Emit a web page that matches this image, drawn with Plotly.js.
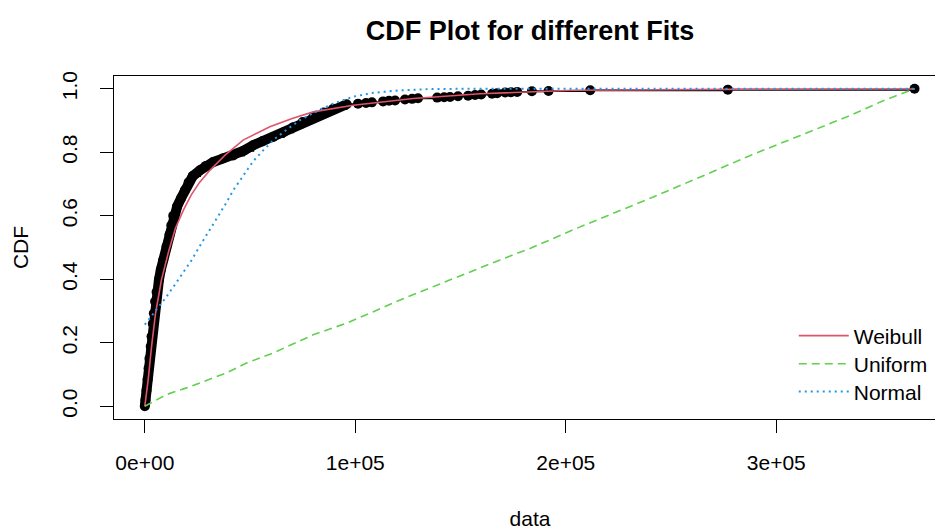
<!DOCTYPE html>
<html>
<head>
<meta charset="utf-8">
<script src="https://cdn.plot.ly/plotly-3.0.1.min.js"></script>
<style>
  html, body { margin: 0; padding: 0; background: #ffffff; overflow: hidden; }
  #chart { width: 946px; height: 531px; }
</style>
</head>
<body>
<div id="chart"></div>
<script>
// Empirical CDF of the sample: sorted observations and their cumulative proportions
const ecdfX = [0, 300, 800, 1300, 1800, 2200, 2800, 3200, 3800, 4300, 4900, 5600, 6700, 7600, 8700,
  10300, 11700, 12600, 13500, 15400, 17200, 19000, 20800, 22800, 26200, 29000, 32500, 37000, 42000,
  47000, 51500, 56000, 61000, 66000, 70500, 75000, 80000, 85000, 89500, 95900,
  101300, 105100, 107900, 113200, 116000, 118900, 123600, 127000, 129800, 138900, 142200, 145000,
  148800, 153600, 156900, 159800, 165000, 167400, 171200, 174000, 176900, 183900, 191800, 211600,
  277000, 365700];
const ecdfY = [0, 0.02, 0.05, 0.084, 0.12, 0.15, 0.188, 0.22, 0.26, 0.293, 0.33, 0.36, 0.398, 0.43, 0.46,
  0.503, 0.54, 0.57, 0.6, 0.63, 0.655, 0.68, 0.705, 0.725, 0.743, 0.757, 0.769, 0.78, 0.79,
  0.805, 0.822, 0.835, 0.848, 0.863, 0.879, 0.895, 0.911, 0.925, 0.937, 0.951,
  0.953, 0.955, 0.957, 0.96, 0.962, 0.963, 0.966, 0.968, 0.97, 0.972, 0.973, 0.974,
  0.976, 0.978, 0.98, 0.982, 0.984, 0.986, 0.988, 0.989, 0.99, 0.992, 0.993, 0.995,
  0.997, 1.0];

// Fitted Weibull CDF
const weibullX = [0, 1600, 3200, 5100, 7900, 11400, 14500, 18500, 22000, 26000, 30900, 38000, 46700,
  59400, 70000, 80000, 99000, 112000, 127600, 159300, 203700, 276900, 365700];
const weibullY = [0, 0.084, 0.188, 0.293, 0.398, 0.49, 0.56, 0.62, 0.665, 0.705, 0.743, 0.79, 0.838,
  0.88, 0.906, 0.927, 0.948, 0.958, 0.969, 0.984, 0.995, 0.998, 0.999];

// Fitted Uniform CDF
const uniformX = [0, 10300, 19800, 38800, 48300, 61000, 80000, 95900, 108600, 121300, 168800, 183000,
  206800, 230600, 240100, 263900, 287700, 311500, 335200, 351100, 365700];
const uniformY = [0, 0.037, 0.058, 0.105, 0.136, 0.168, 0.225, 0.262, 0.298, 0.335, 0.461, 0.497,
  0.565, 0.628, 0.655, 0.722, 0.79, 0.853, 0.916, 0.963, 1.0];

// Fitted Normal CDF
const normalX = [0, 4760, 9510, 13460, 18200, 22200, 26150, 30900, 34860, 38820, 42000, 46740, 51500,
  56250, 61000, 67380, 73700, 81650, 89540, 99050, 108560, 121300, 135500, 160000, 365700];
const normalY = [0.257, 0.297, 0.338, 0.375, 0.42, 0.46, 0.505, 0.555, 0.6, 0.642, 0.68, 0.728, 0.772,
  0.806, 0.838, 0.871, 0.901, 0.929, 0.953, 0.975, 0.987, 0.995, 0.999, 1.0, 1.0];

const xTickVals = [0, 100000, 200000, 300000];
const xTickText = ['0e+00', '1e+05', '2e+05', '3e+05'];
const yTickVals = [0, 0.2, 0.4, 0.6, 0.8, 1.0];
const yTickText = ['0.0', '0.2', '0.4', '0.6', '0.8', '1.0'];

const RED = '#DF536B', GREEN = '#61D04F', BLUE = '#2297E6';

// dense part of the sample, where the points merge into a solid band
const denseX = ecdfX.filter(v => v < 100000);
const denseY = ecdfY.slice(0, denseX.length);

const traces = [
  { x: ecdfX, y: ecdfY, type: 'scatter', mode: 'lines', showlegend: false, hoverinfo: 'skip',
    line: { shape: 'hv', color: '#000', width: 2 } },
  { x: denseX, y: denseY, type: 'scatter', mode: 'lines', showlegend: false, hoverinfo: 'skip',
    line: { color: '#000', width: 10 } },
  { x: ecdfX, y: ecdfY, type: 'scatter', mode: 'markers', showlegend: false,
    marker: { color: '#000', size: 10 } },
  { x: weibullX, y: weibullY, type: 'scatter', mode: 'lines', name: 'Weibull', legend: 'legend',
    line: { color: RED, width: 1.6 } },
  { x: uniformX, y: uniformY, type: 'scatter', mode: 'lines', name: 'Uniform', legend: 'legend2',
    line: { color: GREEN, width: 1.6, dash: '8px,5px' } },
  { x: normalX, y: normalY, type: 'scatter', mode: 'lines', name: 'Normal', legend: 'legend3',
    line: { color: BLUE, width: 2, dash: '2px,4px' } }
];

const axisCommon = {
  showgrid: false, zeroline: false, showline: true, mirror: true,
  linecolor: '#000', linewidth: 1.3,
  ticks: 'outside', ticklen: 13, tickwidth: 1.3, tickcolor: '#000',
  tickfont: { size: 21, color: '#000' }, automargin: false
};

// one legend row per fitted distribution, stacked at the lower right
function legendRow(y) {
  return { x: 0.817, xanchor: 'left', y: y, yanchor: 'middle', bgcolor: 'rgba(0,0,0,0)',
           itemwidth: 50, font: { size: 21 } };
}

const layout = {
  width: 946, height: 531,
  margin: { l: 114, r: 0, t: 76, b: 112 },
  paper_bgcolor: '#fff', plot_bgcolor: '#fff',
  font: { family: 'Liberation Sans, Arial, sans-serif', size: 21, color: '#000' },
  title: { text: '<b>CDF Plot for different Fits</b>', font: { size: 27, color: '#000' },
           xref: 'paper', x: 0.5, xanchor: 'center', yref: 'container', y: 0.943, yanchor: 'middle' },
  xaxis: Object.assign({}, axisCommon, {
    range: [-14640, 380640], tickvals: xTickVals, ticktext: xTickText, ticklabelstandoff: 11,
    title: { text: 'data', font: { size: 21 }, standoff: 38 }
  }),
  yaxis: Object.assign({}, axisCommon, {
    range: [-0.04, 1.04], tickvals: yTickVals, ticktext: yTickText, tickangle: -90,
    ticklabelstandoff: 14,
    title: { text: 'CDF', font: { size: 21 }, standoff: 24 }
  }),
  showlegend: true,
  legend: legendRow(0.242),
  legend2: legendRow(0.160),
  legend3: legendRow(0.079)
};

Plotly.newPlot('chart', traces, layout, { displayModeBar: false, staticPlot: true });
</script>
</body>
</html>
